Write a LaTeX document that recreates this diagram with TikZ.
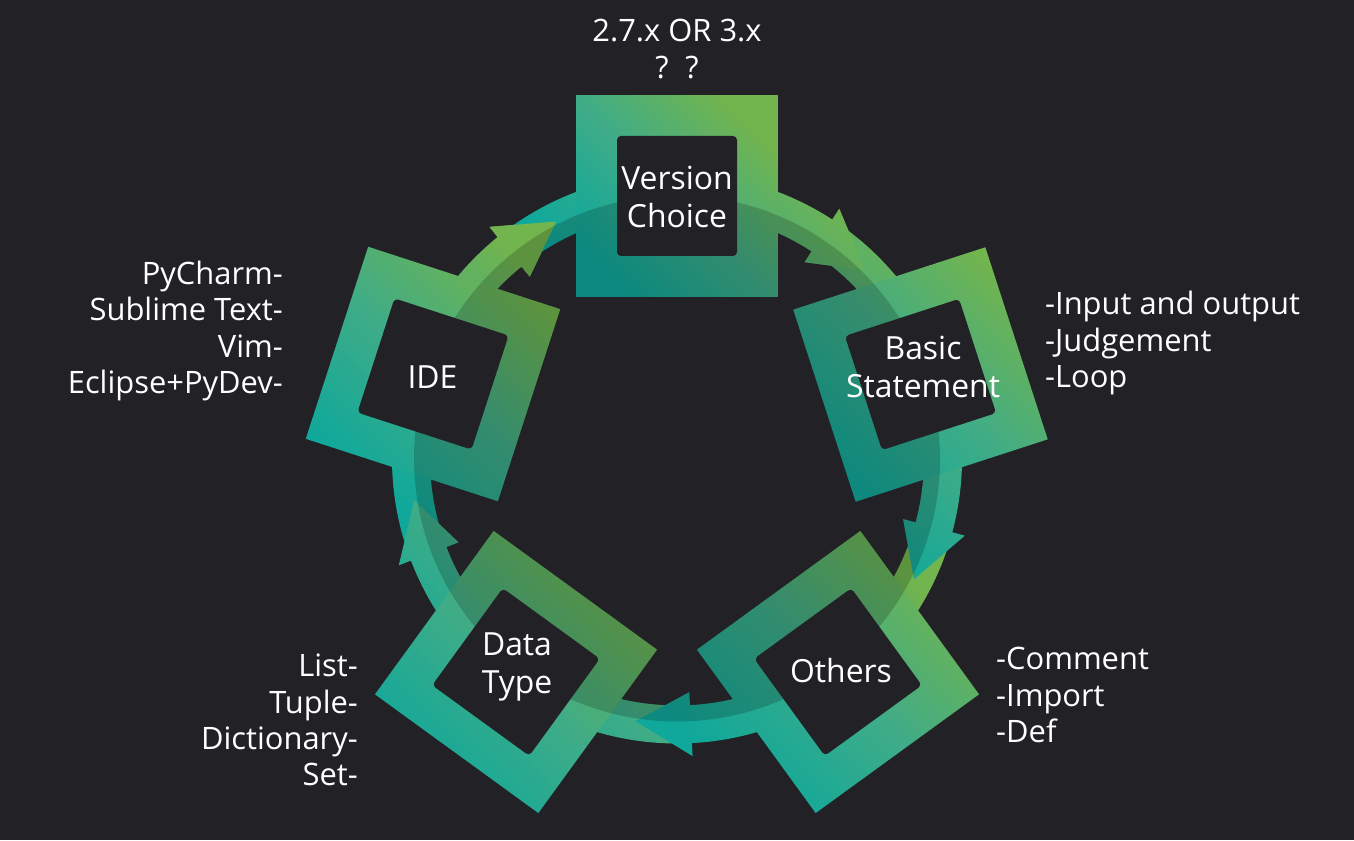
\documentclass[tikz,border=0pt]{standalone}
\usepackage{fontspec}
\setmainfont{Open Sans}
\usetikzlibrary{calc}

\definecolor{bgdark}{HTML}{222226}
\definecolor{tealA}{HTML}{10A89B}
\definecolor{midA}{HTML}{40AC86}
\definecolor{greenA}{HTML}{72B44E}

% one arrow of the ring, #1 = angle of its tip
\newcommand{\ringarrow}[1]{%
  ($(ring)+(#1+81:285)$) arc[start angle=#1+81, end angle=#1+12, radius=285]
  -- ($(ring)+(#1+12:298)$) -- ($(ring)+(#1:266)$) -- ($(ring)+(#1+12:234)$)
  -- ($(ring)+(#1+12:247)$) arc[start angle=#1+12, end angle=#1+81, radius=247]
  -- cycle}
% turned square, #1 = centre, #2 = turn, #3 = half diagonal
\newcommand{\turnsquare}[3]{%
  ($(#1)+(45+#2:#3)$) -- ($(#1)+(-45+#2:#3)$)
  -- ($(#1)+(-135+#2:#3)$) -- ($(#1)+(135+#2:#3)$) -- cycle}

\begin{document}
\begin{tikzpicture}[
    x=1bp, y=1bp,
    % Fill styles:
    ringfill/.style={top color=greenA, bottom color=tealA, middle color=midA,
                     shading angle=-45},
    framefill/.style={top color=greenA, bottom color=tealA, middle color=midA,
                      shading angle=-45},
    innerbox/.style={fill=bgdark, rounded corners=4bp},
    % Text styles:
    boxtext/.style={text=white, align=center, inner sep=0pt,
                    font=\fontsize{32}{38}\selectfont},
    sidetext/.style={text=white, inner sep=0pt,
                     font=\fontsize{31}{36.5}\selectfont},
]
\useasboundingbox (0,0) rectangle (1354,840);
\fill[bgdark] (0,0) rectangle (1354,840);

% --- CENTRES ---
\coordinate (ring) at (677,381.5);
\coordinate (vcC)  at (677,644);
\coordinate (bsC)  at (920.5,465.5);
\coordinate (otC)  at (838,168);
\coordinate (dtC)  at (516,168);
\coordinate (ideC) at (433,466);

% --- RING ARROWS ---
\shade[ringfill] \ringarrow{117};   % IDE -> Version
\shade[ringfill] \ringarrow{-171};  % Data Type -> IDE
\shade[ringfill] \ringarrow{-99};   % Others -> Data Type
\shade[ringfill] \ringarrow{-27};   % Basic -> Others
\shade[ringfill] \ringarrow{45};    % Version -> Basic
% head of the first one back on top
\begin{scope}
  \clip ($(ring)+(129.5:300)$) -- ($(ring)+(117:266)$) -- ($(ring)+(129.5:232)$) -- cycle;
  \shade[ringfill] \ringarrow{117};
\end{scope}

% --- FRAMES ---
\shade[framefill] \turnsquare{vcC}{0}{142.8};
\shade[framefill] \turnsquare{bsC}{18}{142.8};
\shade[framefill] \turnsquare{otC}{36}{142.8};
\shade[framefill] \turnsquare{dtC}{-36}{142.8};
\shade[framefill] \turnsquare{ideC}{-18}{142.8};

% darker inside the ring
\begin{scope}
  \clip (ring) circle[radius=263];
  \fill[black, fill opacity=0.18]
    \ringarrow{117} \ringarrow{-171} \ringarrow{-99} \ringarrow{-27} \ringarrow{45}
    \turnsquare{vcC}{0}{142.8} \turnsquare{bsC}{18}{142.8} \turnsquare{otC}{36}{142.8}
    \turnsquare{dtC}{-36}{142.8} \turnsquare{ideC}{-18}{142.8};
\end{scope}

% inner dark boxes
\fill[innerbox] \turnsquare{vcC}{0}{84.85};
\fill[innerbox] \turnsquare{bsC}{18}{84.85};
\fill[innerbox] \turnsquare{otC}{36}{84.85};
\fill[innerbox] \turnsquare{dtC}{-36}{84.85};
\fill[innerbox] \turnsquare{ideC}{-18}{84.85};

% --- BOX TEXT ---
\node[boxtext] (vc)  at (677,643)   {Version\\Choice};
\node[boxtext] (bs)  at (923,473)   {Basic\\Statement};
\node[boxtext] (ot)  at (841,169.5) {Others};
\node[boxtext] (dt)  at (517,173)   {Data\\Type};
\node[boxtext] (ide) at (432.5,463) {IDE};

% --- SIDE TEXT ---
\node[sidetext, align=center] (ver) at (677,791) {2.7.x OR 3.x\\?\hspace{0.55em}?};
\node[sidetext, align=left, anchor=west] (bsnote) at (1045,497)
     {-Input and output\\-Judgement\\-Loop};
\node[sidetext, align=left, anchor=west] (otnote) at (996,145)
     {-Comment\\-Import\\-Def};
\node[sidetext, align=right, anchor=east] (dtnote) at (358,120)
     {List-\\Tuple-\\Dictionary-\\Set-};
\node[sidetext, align=right, anchor=east] (idenote) at (283,509)
     {PyCharm-\\Sublime Text-\\Vim-\\Eclipse+PyDev-};

\end{tikzpicture}
\end{document}
